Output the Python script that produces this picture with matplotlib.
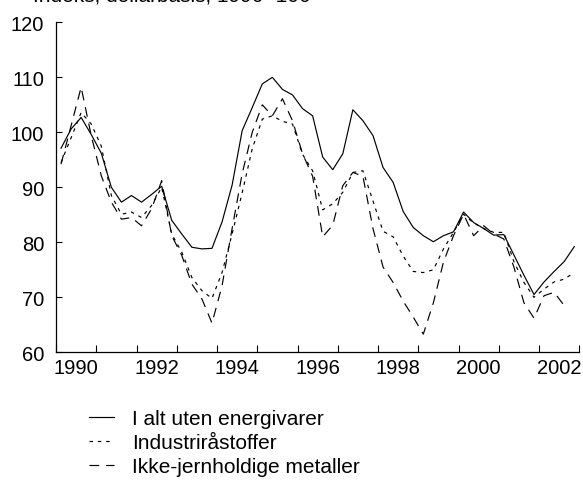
import numpy as np
import matplotlib
matplotlib.use("Agg")
import matplotlib.pyplot as plt

plt.rcParams['font.family'] = ['Liberation Sans', 'DejaVu Sans']
plt.rcParams['font.size'] = 14.5
plt.rcParams['lines.scale_dashes'] = False

# Quarterly data 1990Q1 - 2002Q4
years_start = 1990
n_quarters = 52
quarters = years_start + (np.arange(n_quarters) + 0.5) / 4.0

i_alt = [97.1, 100.6, 102.7, 99.6, 96.2, 90.0, 87.3, 88.5, 87.3, 88.7,
         90.2, 84.0, 81.5, 79.1, 78.8, 78.9, 83.7, 90.4, 100.3, 104.5,
         108.8, 110.0, 107.8, 106.8, 104.3, 103.0, 95.5, 93.2, 96.1, 104.1,
         102.1, 99.4, 93.6, 90.9, 85.6, 82.7, 81.2, 80.1, 81.2, 81.9,
         85.5, 83.6, 82.5, 81.3, 81.4, 77.7, 74.0, 70.5, 72.8, 74.7,
         76.5, 79.2]

industri = [94.5, 99.0, 103.6, 101.5, 97.5, 88.5, 85.1, 85.5, 84.5, 86.7,
            90.0, 81.5, 78.2, 73.6, 71.2, 69.8, 74.5, 81.5, 89.0, 97.0,
            102.4, 103.0, 102.0, 101.5, 96.0, 93.0, 85.9, 87.0, 89.1, 92.7,
            93.0, 87.5, 82.0, 81.0, 77.5, 74.7, 74.5, 75.0, 78.8, 81.8,
            85.1, 83.5, 82.5, 81.8, 81.8, 76.5, 72.7, 70.0, 71.5, 72.8,
            73.3, 74.5]

metaller = [94.2, 101.2, 108.2, 99.4, 92.1, 87.3, 84.2, 84.5, 83.0, 86.1,
            91.2, 81.2, 77.6, 72.4, 69.7, 65.3, 72.1, 82.5, 92.5, 100.0,
            105.0, 103.0, 106.1, 102.1, 96.1, 92.0, 81.0, 83.1, 90.3, 92.7,
            92.0, 82.5, 75.5, 72.7, 69.3, 66.4, 63.3, 69.0, 76.4, 81.2,
            85.1, 81.2, 83.0, 81.5, 80.6, 75.5, 69.0, 66.2, 70.3, 70.9,
            68.5, np.nan]

labels = ["I alt uten energivarer", "Industriråstoffer", "Ikke-jernholdige metaller"]
year_labels = ["1990", "1992", "1994", "1996", "1998", "2000", "2002"]
y_ticks = [60, 70, 80, 90, 100, 110, 120]
title = "Indeks, dollarbasis, 1990=100"

W, H = 583, 481
fig = plt.figure(figsize=(W / 100, H / 100), dpi=100)
ax = fig.add_axes([56 / W, 1 - 353.3 / H, (579.3 - 56) / W, (353.3 - 23.3) / H])

ax.plot(quarters, i_alt, color='black', lw=0.85, label=labels[0])
ax.plot(quarters, industri, color='black', lw=0.85, dashes=(2.5, 3.5), label=labels[1])
ax.plot(quarters, metaller, color='black', lw=0.85, dashes=(7, 5), label=labels[2])

ax.set_xlim(1990, 2003)
ax.set_ylim(60, 120)
ax.set_yticks(y_ticks)
ax.set_xticks(np.arange(1990, 2004), labels=[""] * 14)
ax.set_xticks([int(y) + 0.5 for y in year_labels], labels=year_labels, minor=True)
ax.tick_params(axis='x', which='major', direction='in', length=5, width=0.8)
ax.tick_params(axis='x', which='minor', length=0, pad=4)
ax.tick_params(axis='y', direction='in', length=4, width=0.8, pad=8.5)
for s in ['top', 'right']:
    ax.spines[s].set_visible(False)
for s in ['left', 'bottom']:
    ax.spines[s].set_linewidth(0.9)

ax.legend(loc='upper left', bbox_to_anchor=(89 / W, 1 - 410 / H),
          bbox_transform=fig.transFigure, frameon=False, borderpad=0,
          borderaxespad=0, handlelength=1.2, handletextpad=0.86,
          labelspacing=0.24, fontsize=15)

fig.text(33 / W, 1 - 1.5 / H, title, ha='left', va='baseline', fontsize=15)

fig.savefig("out.png", dpi=100)
